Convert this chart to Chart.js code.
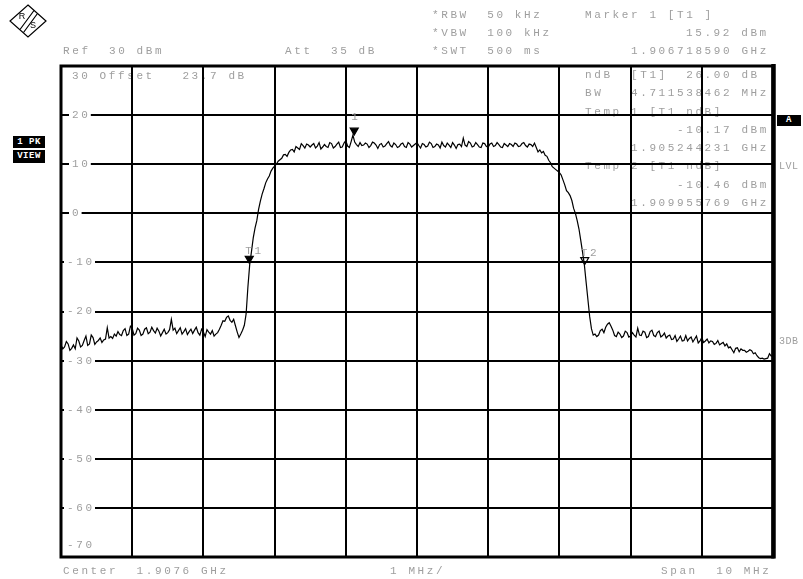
<!DOCTYPE html>
<html><head><meta charset="utf-8">
<script src="https://cdn.jsdelivr.net/npm/chart.js@4"></script>
<style>
html,body{margin:0;padding:0;background:#fff;}
#wrap{position:relative;width:803px;height:579px;overflow:hidden;background:#fff;}
#c{position:absolute;left:0;top:0;width:803px;height:579px;}
.t{position:absolute;font-family:"Liberation Mono",monospace;font-size:11px;line-height:12px;letter-spacing:2.6px;color:#9e9e9e;white-space:pre;}
.b{position:absolute;background:#000;color:#fff;font-family:"Liberation Mono",monospace;font-weight:bold;font-size:9px;line-height:12px;letter-spacing:0.5px;text-align:center;white-space:pre;}
</style></head>
<body><div id="wrap"><canvas id="c" width="803" height="579"></canvas>
<div class="t" style="left:432px;top:9px">*RBW  50 kHz</div>
<div class="t" style="left:432px;top:27px">*VBW  100 kHz</div>
<div class="t" style="left:432px;top:45px">*SWT  500 ms</div>
<div class="t" style="left:585px;top:9px">Marker 1 [T1 ]</div>
<div class="t" style="left:686px;top:27px">15.92 dBm</div>
<div class="t" style="left:631px;top:45px">1.906718590 GHz</div>
<div class="t" style="left:63px;top:45px">Ref  30 dBm</div>
<div class="t" style="left:285px;top:45px">Att  35 dB</div>
<div class="t" style="left:63px;top:565px">Center  1.9076 GHz</div>
<div class="t" style="left:390px;top:565px">1 MHz/</div>
<div class="t" style="left:661px;top:565px">Span  10 MHz</div>
<div class="t" style="left:779px;top:161px;letter-spacing:0.5px;font-size:10px">LVL</div>
<div class="t" style="left:779px;top:336px;letter-spacing:0.5px;font-size:10px">3DB</div>
<div class="b" style="left:13px;top:136px;width:32px;height:12px">1 PK</div>
<div class="b" style="left:13px;top:150px;width:32px;height:13px">VIEW</div>
<div class="b" style="left:777px;top:115px;width:24px;height:11px;line-height:11px">A</div>
</div>
<script>
// Sweep: 10 MHz span, start offset 0 MHz = 1.9026 GHz, one trace point every 0.025 MHz
const START_GHZ = 1.9026;
const SWEEP_STEP_MHZ = 0.025;
// Trace levels in dBm, one row per 1 MHz division
const levels = [
 -26.8,-27.6,-27.2,-26.1,-26.6,-27.9,-27.5,-26.8,-27.6,-25.4,-26.0,-27.2,-26.9,-25.9,-25.0,-26.9,-26.6,-24.8,-25.3,-26.7,
 -26.2,-25.9,-25.4,-26.3,-25.8,-25.6,-23.3,-25.4,-25.1,-25.5,-24.6,-25.0,-24.1,-24.7,-24.9,-23.9,-23.5,-24.9,-24.6,-23.0,
 -23.4,-24.8,-24.5,-23.4,-23.8,-24.9,-24.6,-23.6,-23.3,-24.5,-24.2,-23.2,-23.9,-24.4,-23.4,-24.0,-25.0,-24.3,-23.6,-24.6,
 -24.3,-23.7,-21.6,-23.8,-23.4,-24.5,-23.9,-23.3,-24.6,-24.1,-23.5,-24.7,-24.1,-23.6,-24.5,-23.8,-23.2,-24.3,-24.8,-23.6,
 -24.2,-25.1,-23.7,-24.2,-24.6,-23.9,-25.0,-24.6,-24.3,-23.6,-22.8,-21.9,-22.0,-21.2,-20.9,-21.8,-22.2,-21.6,-22.9,-24.2,
 -25.3,-24.6,-23.8,-22.8,-20.5,-15.0,-10.5,-7.8,-5.0,-3.0,-1.5,0.8,2.5,3.9,5.0,6.2,7.0,7.6,8.6,9.2,
 9.6,10.0,10.6,10.9,11.2,11.9,12.0,11.6,12.4,12.9,13.0,12.5,13.6,13.3,13.0,14.2,13.8,13.3,14.1,13.9,
 13.5,13.9,14.2,13.3,13.7,14.4,13.1,13.5,14.0,13.6,13.4,14.4,14.2,13.3,13.6,14.1,14.5,13.4,13.5,14.3,
 14.8,13.7,13.4,14.6,15.92,14.5,14.0,13.6,14.4,13.8,13.9,14.3,14.1,13.4,13.8,14.5,14.3,13.9,13.2,14.0,
 14.2,13.5,13.7,14.2,14.6,13.8,13.5,14.3,14.0,13.4,13.6,14.1,14.3,13.6,13.4,14.4,14.1,13.5,13.8,14.1,
 14.4,13.8,13.3,14.2,14.0,13.5,13.7,14.5,14.2,13.4,13.6,14.1,13.9,13.3,14.5,13.8,13.5,14.3,13.9,13.4,
 14.4,13.9,13.2,14.0,14.1,13.6,15.3,13.9,13.6,14.6,14.3,13.5,13.7,14.4,14.0,13.5,13.4,14.3,14.2,13.6,
 13.5,14.1,14.3,13.6,13.8,14.4,14.0,13.5,13.4,14.2,13.9,13.6,14.2,14.0,13.6,14.3,14.1,13.6,13.7,14.2,
 14.4,13.8,13.5,14.1,14.0,13.6,14.3,13.4,12.5,12.9,12.3,12.6,11.8,11.6,10.8,10.3,9.5,9.2,8.9,8.6,
 8.3,7.8,6.8,5.8,4.6,4.2,3.6,2.6,1.0,0.0,-1.5,-3.2,-5.5,-7.9,-10.4,-14.0,-17.5,-21.0,-23.5,-24.8,
 -24.6,-25.1,-24.8,-23.9,-23.6,-24.3,-23.2,-22.6,-22.3,-23.0,-23.8,-24.9,-25.1,-24.2,-24.6,-25.3,-25.0,-24.0,-24.3,-25.2,
 -25.0,-24.3,-24.8,-25.2,-23.4,-24.8,-24.9,-24.0,-24.2,-25.3,-25.1,-24.1,-23.8,-24.9,-25.1,-24.3,-24.0,-25.2,-24.9,-24.4,
 -25.4,-25.0,-24.8,-25.7,-25.6,-24.9,-26.1,-25.6,-25.0,-26.0,-25.9,-24.9,-26.0,-25.5,-25.2,-26.2,-25.6,-25.0,-26.4,-26.0,
 -25.3,-26.3,-26.0,-25.6,-26.4,-26.0,-26.1,-26.7,-26.5,-25.9,-26.8,-26.5,-26.3,-27.0,-26.6,-27.4,-27.2,-27.8,-28.4,-27.5,
 -27.4,-28.2,-27.6,-27.9,-27.9,-28.3,-28.1,-27.8,-28.0,-28.6,-28.4,-29.0,-29.4,-29.6,-29.5,-29.7,-29.6,-29.5,-28.6,-29.1,
 -29.0
];
// Axis tick labels (dBm)
const yTickValues = [30,20,10,0,-10,-20,-30,-40,-50,-60,-70];
const yTickLabels = ['30','20','10','0','-10','-20','-30','-40','-50','-60','-70'];
// Markers: name, frequency (GHz), level (dBm)
const markerNames = ['1','T1','T2'];
const markerFreqsGHz = [1.906718590, 1.905244231, 1.909955769];
const markerLevels = [15.92, -10.17, -10.46];
const markerFilled = [true, true, false];
// Marker info box lines
const infoLines = [
 'ndB  [T1]  26.00 dB',
 'BW   4.711538462 MHz',
 'Temp 1 [T1 ndB]',
 '          -10.17 dBm',
 '     1.905244231 GHz',
 'Temp 2 [T1 ndB]',
 '          -10.46 dBm',
 '     1.909955769 GHz'
];

const points = levels.map((v, i) => ({x: i * SWEEP_STEP_MHZ, y: v}));
const FONT = '11px "Liberation Mono", monospace';
const GRAY = '#9e9e9e';

function txt(ctx, s, x, y) {
  ctx.save();
  ctx.font = FONT;
  ctx.fillStyle = GRAY;
  ctx.textBaseline = 'middle';
  if ('letterSpacing' in ctx) { ctx.letterSpacing = '2.6px'; ctx.fillText(s, x, y); }
  else { for (let i = 0; i < s.length; i++) ctx.fillText(s[i], x + i * 9.2, y); }
  ctx.restore();
}

const decor = {
  id: 'decor',
  beforeDraw(chart) {
    const ctx = chart.ctx;
    // R&S logo
    ctx.save();
    ctx.strokeStyle = '#000'; ctx.lineWidth = 1.2;
    ctx.beginPath(); ctx.moveTo(28,5); ctx.lineTo(46,21); ctx.lineTo(28,37); ctx.lineTo(10,21); ctx.closePath(); ctx.stroke();
    ctx.beginPath(); ctx.moveTo(34,10.5); ctx.lineTo(20,29.5); ctx.moveTo(37.5,13.5); ctx.lineTo(23.5,32.5); ctx.stroke();
    ctx.fillStyle = '#000'; ctx.font = '9px "Liberation Sans", sans-serif'; ctx.textAlign='center'; ctx.textBaseline='middle';
    ctx.fillText('R', 22, 17); ctx.fillText('S', 33, 26);
    ctx.restore();
    // texts lying under the grid lines
    const a = chart.chartArea;
    txt(ctx, '   Offset   23.7 dB', 72, a.top + 10);
    infoLines.forEach((s, i) => txt(ctx, s, 585, 75 + i * 18.3));
  },
  afterDatasetsDraw(chart) {
    const ctx = chart.ctx;
    const xs = chart.scales.x, ys = chart.scales.y;
    // y labels
    ctx.save();
    yTickValues.forEach((v, i) => {
      const lab = yTickLabels[i];
      let y = ys.getPixelForValue(v);
      if (v === 30) y += 10; else if (v === -70) y -= 12;
      const x0 = lab[0] === '-' ? 67 : 72;
      const w = lab.length * 9.2 - 2.6;
      if (v !== 30 && v !== -70) { ctx.fillStyle = '#fff'; ctx.fillRect(x0 - 3, y - 3, w + 6, 6); }
      txt(ctx, lab, x0, y);
    });
    ctx.restore();
    // markers
    markerNames.forEach((n, i) => {
      const px = xs.getPixelForValue((markerFreqsGHz[i] - START_GHZ) * 1000);
      const py = ys.getPixelForValue(markerLevels[i]);
      ctx.save();
      ctx.beginPath(); ctx.moveTo(px, py); ctx.lineTo(px - 4, py - 7); ctx.lineTo(px + 4, py - 7); ctx.closePath();
      ctx.strokeStyle = '#000'; ctx.lineWidth = 1.2; ctx.stroke();
      if (markerFilled[i]) { ctx.fillStyle = '#000'; ctx.fill(); }
      ctx.restore();
      if (n === '1') txt(ctx, n, px - 3, py - 18);
      else txt(ctx, n, px - 4, py - 12);
    });
  },
  afterDraw(chart) {
    const ctx = chart.ctx, a = chart.chartArea;
    ctx.save();
    ctx.strokeStyle = '#000'; ctx.lineWidth = 3;
    ctx.strokeRect(a.left, a.top, a.right - a.left, a.bottom - a.top);
    ctx.lineWidth = 4.5;
    ctx.beginPath(); ctx.moveTo(a.right + 0.5, a.top - 2); ctx.lineTo(a.right + 0.5, a.bottom + 1.5); ctx.stroke();
    ctx.restore();
  }
};

new Chart(document.getElementById('c'), {
  type: 'line',
  data: { datasets: [{ data: points, borderColor: '#000', borderWidth: 1.2, pointRadius: 0, tension: 0, fill: false }] },
  options: {
    responsive: false, animation: false,
    layout: { padding: { left: 61, top: 66, right: 30, bottom: 22 } },
    plugins: { legend: { display: false }, tooltip: { enabled: false } },
    scales: {
      x: { type: 'linear', min: 0, max: 10, ticks: { display: false, stepSize: 1 },
           grid: { color: '#000', lineWidth: 2, drawTicks: false }, border: { display: false } },
      y: { type: 'linear', min: -70, max: 30, ticks: { display: false, stepSize: 10 },
           grid: { color: '#000', lineWidth: 2, drawTicks: false }, border: { display: false } }
    }
  },
  plugins: [decor]
});
</script>
</body></html>
